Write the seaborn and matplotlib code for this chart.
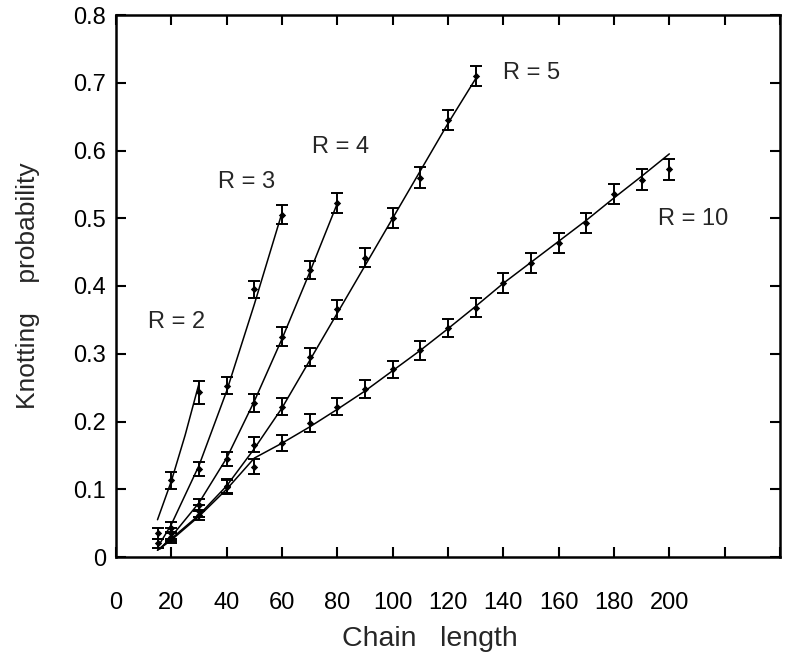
import pandas as pd
import numpy as np
import matplotlib
matplotlib.use("Agg")
import matplotlib.pyplot as plt
import seaborn as sns

# ---------------------------------------------
# data
# ---------------------------------------------
r2_x = [15, 20, 30]
r2_y = [0.035, 0.113, 0.243]
r2_err = [0.008, 0.012, 0.017]
r2_fit_x = [15, 20, 25, 30]
r2_fit_y = [0.055, 0.112, 0.180, 0.256]

r3_x = [15, 20, 30, 40, 50, 60]
r3_y = [0.020, 0.043, 0.130, 0.253, 0.395, 0.505]
r3_err = [0.006, 0.008, 0.010, 0.012, 0.012, 0.014]
r3_fit_x = [15, 20, 30, 40, 50, 60]
r3_fit_y = [0.014, 0.048, 0.135, 0.245, 0.373, 0.508]

r4_x = [20, 30, 40, 50, 60, 70, 80]
r4_y = [0.035, 0.077, 0.145, 0.227, 0.325, 0.424, 0.523]
r4_err = [0.008, 0.009, 0.010, 0.013, 0.014, 0.013, 0.015]
r4_fit_x = [16, 20, 30, 40, 50, 60, 70, 80]
r4_fit_y = [0.012, 0.030, 0.080, 0.146, 0.230, 0.322, 0.420, 0.522]

r5_x = [20, 30, 40, 50, 60, 70, 80, 90, 100, 110, 120, 130]
r5_y = [0.030, 0.068, 0.105, 0.166, 0.222, 0.295, 0.366, 0.442, 0.500, 0.560, 0.645, 0.710]
r5_err = [0.007, 0.009, 0.010, 0.011, 0.012, 0.013, 0.014, 0.014, 0.015, 0.015, 0.015, 0.015]
r5_fit_x = [15, 20, 30, 40, 50, 60, 70, 80, 90, 100, 110, 120, 130]
r5_fit_y = [0.010, 0.027, 0.062, 0.105, 0.160, 0.220, 0.290, 0.360, 0.430, 0.500, 0.570, 0.640, 0.706]

r10_x = [20, 30, 40, 50, 60, 70, 80, 90, 100, 110, 120, 130, 140, 150, 160, 170, 180, 190, 200]
r10_y = [0.028, 0.062, 0.103, 0.133, 0.168, 0.198, 0.222, 0.248, 0.277, 0.305, 0.338,
         0.368, 0.404, 0.434, 0.463, 0.493, 0.536, 0.557, 0.572]
r10_err = [0.007, 0.008, 0.010, 0.011, 0.012, 0.013, 0.013, 0.013, 0.013, 0.014, 0.014,
           0.014, 0.015, 0.015, 0.015, 0.015, 0.015, 0.015, 0.016]
r10_fit_x = [15, 20, 30, 40, 50, 60, 70, 80, 90, 100, 110, 120, 130, 140, 150, 160, 170, 180, 190, 200]
r10_fit_y = [0.010, 0.025, 0.060, 0.100, 0.146, 0.168, 0.192, 0.218, 0.245, 0.275, 0.305,
             0.337, 0.370, 0.404, 0.435, 0.466, 0.497, 0.530, 0.562, 0.595]

series_names = ["R = 2", "R = 3", "R = 4", "R = 5", "R = 10"]
label_x = [11.5, 37, 71, 140, 196]
label_y = [0.347, 0.553, 0.605, 0.714, 0.499]

x_ticks = [0, 20, 40, 60, 80, 100, 120, 140, 160, 180, 200, 220, 240]
x_tick_labels = ["0", "20", "40", "60", "80", "100", "120", "140", "160", "180", "200", "", ""]
y_ticks = [0, 0.1, 0.2, 0.3, 0.4, 0.5, 0.6, 0.7, 0.8]
y_tick_labels = ["0", "0.1", "0.2", "0.3", "0.4", "0.5", "0.6", "0.7", "0.8"]

# ---------------------------------------------
# build tables
# ---------------------------------------------
points = pd.concat([
    pd.DataFrame({"length": r2_x, "prob": r2_y, "err": r2_err, "R": series_names[0]}),
    pd.DataFrame({"length": r3_x, "prob": r3_y, "err": r3_err, "R": series_names[1]}),
    pd.DataFrame({"length": r4_x, "prob": r4_y, "err": r4_err, "R": series_names[2]}),
    pd.DataFrame({"length": r5_x, "prob": r5_y, "err": r5_err, "R": series_names[3]}),
    pd.DataFrame({"length": r10_x, "prob": r10_y, "err": r10_err, "R": series_names[4]}),
], ignore_index=True)

fits = pd.concat([
    pd.DataFrame({"length": r2_fit_x, "prob": r2_fit_y, "R": series_names[0]}),
    pd.DataFrame({"length": r3_fit_x, "prob": r3_fit_y, "R": series_names[1]}),
    pd.DataFrame({"length": r4_fit_x, "prob": r4_fit_y, "R": series_names[2]}),
    pd.DataFrame({"length": r5_fit_x, "prob": r5_fit_y, "R": series_names[3]}),
    pd.DataFrame({"length": r10_fit_x, "prob": r10_fit_y, "R": series_names[4]}),
], ignore_index=True)

# ---------------------------------------------
# plot
# ---------------------------------------------
sns.set_style("ticks")
plt.rcParams["font.family"] = ["Liberation Sans", "DejaVu Sans"]

fig = plt.figure(figsize=(7.87, 6.61), dpi=100)
ax = fig.add_axes([116 / 787, 1 - 557 / 661, (780 - 116) / 787, (557 - 15) / 661])

black = {name: "black" for name in series_names}
sns.lineplot(data=fits, x="length", y="prob", hue="R", palette=black,
             linewidth=1.1, legend=False, sort=True, ax=ax)

ax.errorbar(points["length"], points["prob"], yerr=points["err"], fmt="none",
            ecolor="black", elinewidth=1.4, capsize=4, capthick=1.4)
sns.scatterplot(data=points, x="length", y="prob", color="black", marker="D",
                s=14, edgecolor="black", linewidth=0, legend=False, ax=ax, zorder=3)

for name, lx, ly in zip(series_names, label_x, label_y):
    ax.text(lx, ly, name, fontsize=17, va="center", ha="left")

ax.set_xlim(0, 240)
ax.set_ylim(0, 0.8)
ax.set_xticks(x_ticks)
ax.set_xticklabels(x_tick_labels)
ax.set_yticks(y_ticks)
ax.set_yticklabels(y_tick_labels)

ax.tick_params(direction="in", length=7, width=1.5, top=True, right=True,
               labelsize=17, colors="black")
ax.tick_params(axis="x", pad=25)
ax.tick_params(axis="y", pad=7)
for sp in ax.spines.values():
    sp.set_visible(True)
    sp.set_linewidth(1.8)
    sp.set_color("black")

ax.set_xlabel("Chain   length", fontsize=20.5)
ax.set_ylabel("Knotting    probability", fontsize=19)
ax.xaxis.set_label_coords(0.473, -0.127)
ax.yaxis.set_label_coords(-0.115, 0.5)

fig.savefig("out.png", dpi=100)
